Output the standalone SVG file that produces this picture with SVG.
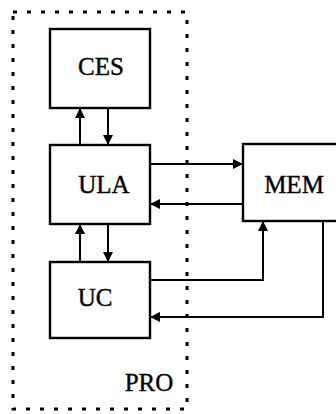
<svg xmlns="http://www.w3.org/2000/svg" width="336" height="414" viewBox="0 0 336 414">
<defs>
<marker id="ah" viewBox="0 0 10 10" refX="10" refY="5" markerWidth="10" markerHeight="10" markerUnits="userSpaceOnUse" orient="auto">
<path d="M0,0 L10,5 L0,10 z" fill="#000"/>
</marker>
</defs>
<style>
.box{fill:#fff;stroke:#000;stroke-width:2.4}
.lbl{font-family:"Liberation Serif","Times New Roman",serif;font-size:25px;text-anchor:middle;fill:#000;stroke:#000;stroke-width:0.4}
.c{fill:none;stroke:#000;stroke-width:2;marker-end:url(#ah)}
.pro{fill:none;stroke:#000;stroke-width:3;stroke-dasharray:4 10}
</style>
<g id="PRO">
<rect class="pro" x="13" y="12" width="174" height="397"/>
<text class="lbl" x="149" y="391">PRO</text>
</g>
<g id="CES">
<rect class="box" x="50" y="29" width="100" height="79"/>
<text class="lbl" x="101" y="75">CES</text>
</g>
<g id="ULA">
<rect class="box" x="50" y="145" width="100" height="79"/>
<text class="lbl" x="104" y="193">ULA</text>
</g>
<g id="UC">
<rect class="box" x="50" y="262" width="100" height="76"/>
<text class="lbl" x="95" y="306">UC</text>
</g>
<g id="MEM">
<rect class="box" x="243" y="144" width="96" height="77"/>
<text class="lbl" x="294" y="193">MEM</text>
</g>
<g id="connectors">
<path class="c" d="M80,145 L80,108"/>
<path class="c" d="M108,108 L108,145"/>
<path class="c" d="M80,262 L80,224"/>
<path class="c" d="M108,224 L108,262"/>
<path class="c" d="M150,164 L243,164"/>
<path class="c" d="M243,204 L150,204"/>
<path class="c" d="M150,280 L263,280 L263,221"/>
<path class="c" d="M323,221 L323,317 L150,317"/>
</g>
</svg>
